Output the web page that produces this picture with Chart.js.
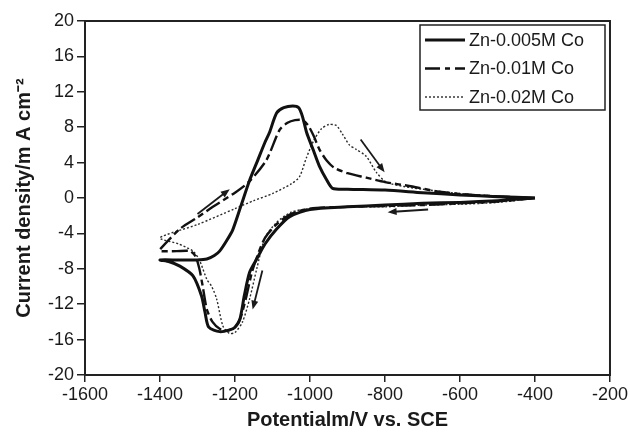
<!DOCTYPE html>
<html>
<head>
<meta charset="utf-8">
<script src="https://cdn.jsdelivr.net/npm/chart.js@4.4.1/dist/chart.umd.min.js"></script>
<style>
  html, body { margin: 0; padding: 0; background: #fff; }
  #wrap { width: 630px; height: 436px; }
</style>
</head>
<body>
<div id="wrap"><canvas id="cv" width="630" height="436"></canvas></div>
<script>
// series labels
const seriesNames = ['Zn-0.005M Co', 'Zn-0.01M Co', 'Zn-0.02M Co'];

// Zn-0.005M Co : cathodic sweep from -400 to -1400, then back
const potential005 = [-400, -500, -600, -700, -800, -900, -1000, -1054, -1089, -1120, -1142, -1161, -1175, -1187, -1200, -1214, -1241, -1270, -1280, -1289, -1312, -1347, -1375, -1400,
  -1350, -1300, -1275, -1255, -1241, -1222, -1206, -1185, -1161, -1140, -1120, -1108, -1089, -1070, -1046, -1030, -1020, -1009, -992, -975, -955, -940, -900, -800, -700, -600, -500, -400];
const current005 = [0, -0.3, -0.5, -0.6, -0.8, -1.0, -1.3, -2.1, -3.5, -5.2, -6.9, -8.4, -11, -13.7, -14.6, -14.9, -15.1, -14.6, -12.9, -11.1, -8.8, -7.7, -7.2, -7.0,
  -7.0, -7.0, -6.9, -6.5, -6.0, -4.8, -3.6, -1, 2, 4.2, 6.3, 7.4, 9.6, 10.2, 10.4, 10.2, 9.2, 7.4, 5.5, 3.6, 2, 1.1, 1.0, 0.9, 0.6, 0.35, 0.15, 0];

// Zn-0.01M Co
const potential01 = [-400, -500, -600, -700, -800, -900, -1000, -1050, -1090, -1120, -1140, -1155, -1169, -1185, -1200, -1222, -1240, -1260, -1275, -1286, -1295, -1305, -1320, -1355, -1400,
  -1400, -1347, -1300, -1259, -1200, -1161, -1116, -1081, -1060, -1040, -1020, -1005, -990, -975, -955, -935, -900, -850, -800, -727, -655, -550, -400];
const current01 = [0, -0.4, -0.6, -0.8, -0.9, -1.0, -1.2, -1.8, -3, -4.5, -6.5, -8.4, -11, -13.5, -14.6, -15, -14.8, -14, -12.6, -10, -8, -6.6, -6, -6, -6,
  -5.8, -3.5, -2.2, -1, 0.6, 1.9, 4.3, 7.7, 8.5, 8.8, 8.8, 8.2, 7, 5.5, 4.2, 3.4, 2.8, 2.3, 1.8, 1.3, 0.7, 0.3, 0];

// Zn-0.02M Co
const potential02 = [-400, -500, -600, -700, -800, -900, -1000, -1050, -1090, -1120, -1142, -1161, -1180, -1200, -1215, -1232, -1249, -1262, -1275, -1295, -1312, -1350, -1400,
  -1300, -1200, -1150, -1100, -1050, -1028, -1010, -990, -970, -950, -930, -913, -895, -877, -850, -823, -797, -750, -700, -600, -500, -400];
const current02 = [0, -0.5, -0.7, -0.8, -1.0, -1.0, -1.2, -1.6, -2.8, -4.5, -8, -11.4, -14, -15.2, -15.3, -14.5, -11.4, -10, -9.2, -7, -6, -5.2, -4.5,
  -3, -1.2, -0.3, 0.5, 1.6, 2.4, 4.5, 6.5, 7.8, 8.3, 8.2, 7.2, 6, 5.5, 4.7, 2.9, 1.8, 1.3, 1.0, 0.5, 0.2, 0];

// scan direction arrows, [fromX, fromY, toX, toY] in data units
const arrows = [
  [-1300, -1.8, -1214, 1.0],
  [-865, 6.6, -801, 2.9],
  [-685, -1.3, -793, -1.6],
  [-1127, -8.2, -1153, -12.6]
];

const xTicks = { min: -1600, max: -200, step: 200 };
const yTicks = { min: -20, max: 20, step: 4 };

function toPoints(xs, ys) {
  return xs.map((x, i) => ({ x: x, y: ys[i] }));
}

const FONT = '"Liberation Sans", Arial, sans-serif';
const INK = '#1a1a1a';

const styles = [
  { width: 3, dash: [], color: '#111' },
  { width: 2.4, dash: [16, 4, 6, 4], color: '#111' },
  { width: 1.4, dash: [2, 2], color: '#2a2a2a' }
];

const frame = {
  id: 'frame',
  afterDatasetsDraw(chart) {
    const ctx = chart.ctx;
    const a = chart.chartArea;
    const xs = chart.scales.x, ys = chart.scales.y;
    ctx.save();
    // arrows
    ctx.strokeStyle = INK;
    ctx.fillStyle = INK;
    ctx.lineWidth = 1.8;
    for (const ar of arrows) {
      const x1 = xs.getPixelForValue(ar[0]), y1 = ys.getPixelForValue(ar[1]);
      const x2 = xs.getPixelForValue(ar[2]), y2 = ys.getPixelForValue(ar[3]);
      const ang = Math.atan2(y2 - y1, x2 - x1);
      ctx.beginPath();
      ctx.moveTo(x1, y1);
      ctx.lineTo(x2 - 6 * Math.cos(ang), y2 - 6 * Math.sin(ang));
      ctx.stroke();
      ctx.beginPath();
      ctx.moveTo(x2, y2);
      ctx.lineTo(x2 - 9 * Math.cos(ang) + 3.5 * Math.sin(ang), y2 - 9 * Math.sin(ang) - 3.5 * Math.cos(ang));
      ctx.lineTo(x2 - 9 * Math.cos(ang) - 3.5 * Math.sin(ang), y2 - 9 * Math.sin(ang) + 3.5 * Math.cos(ang));
      ctx.closePath();
      ctx.fill();
    }
    // plot box
    ctx.lineWidth = 2;
    ctx.strokeStyle = '#222';
    ctx.strokeRect(a.left, a.top, a.right - a.left, a.bottom - a.top);

    // legend box
    const lx = 420, ly = 25, lw = 185, lh = 85;
    ctx.fillStyle = '#fff';
    ctx.fillRect(lx, ly, lw, lh);
    ctx.lineWidth = 1.5;
    ctx.strokeStyle = '#222';
    ctx.strokeRect(lx, ly, lw, lh);
    ctx.font = '18px ' + FONT;
    ctx.textBaseline = 'middle';
    ctx.textAlign = 'left';
    for (let i = 0; i < seriesNames.length; i++) {
      const yy = 40 + i * 28.5;
      const st = styles[i];
      ctx.strokeStyle = st.color;
      ctx.lineWidth = st.width;
      ctx.setLineDash(i === 1 ? [15, 5, 5, 5] : st.dash);
      ctx.beginPath();
      ctx.moveTo(425, yy);
      ctx.lineTo(465, yy);
      ctx.stroke();
      ctx.setLineDash([]);
      ctx.fillStyle = INK;
      ctx.fillText(seriesNames[i], 469, yy + 1);
    }
    ctx.restore();
  }
};

const datasets = [
  toPoints(potential005, current005),
  toPoints(potential01, current01),
  toPoints(potential02, current02)
].map((pts, i) => ({
  label: seriesNames[i],
  data: pts,
  showLine: true,
  borderColor: styles[i].color,
  borderWidth: styles[i].width,
  borderDash: styles[i].dash,
  pointRadius: 0,
  tension: 0.25,
  fill: false
}));

new Chart(document.getElementById('cv'), {
  type: 'scatter',
  data: { datasets: datasets },
  options: {
    responsive: false,
    animation: false,
    layout: { padding: { top: 21, right: 19, left: 0, bottom: 0 } },
    plugins: { legend: { display: false }, tooltip: { enabled: false } },
    scales: {
      x: {
        type: 'linear',
        min: xTicks.min, max: xTicks.max,
        afterFit: s => { s.height = 61; },
        border: { display: false },
        grid: { drawOnChartArea: false, drawTicks: true, tickLength: 7, color: '#222', lineWidth: 1.5 },
        ticks: { stepSize: xTicks.step, color: INK, font: { family: FONT, size: 18 }, padding: 2, callback: v => String(v) },
        title: { display: true, text: 'Potentialm/V vs. SCE', color: INK, font: { family: FONT, size: 20, weight: 'bold' }, padding: { top: 0, bottom: 4 } }
      },
      y: {
        min: yTicks.min, max: yTicks.max,
        afterFit: s => { s.width = 85; },
        border: { display: false },
        grid: { drawOnChartArea: false, drawTicks: true, tickLength: 8, color: '#222', lineWidth: 1.5 },
        ticks: { stepSize: yTicks.step, color: INK, font: { family: FONT, size: 18 }, padding: 3, callback: v => String(v) },
        title: { display: true, text: 'Current density/m A cm\u207B\u00B2', color: INK, font: { family: FONT, size: 20, weight: 'bold' }, padding: { top: 12, bottom: 0 } }
      }
    }
  },
  plugins: [frame]
});
</script>
</body>
</html>
